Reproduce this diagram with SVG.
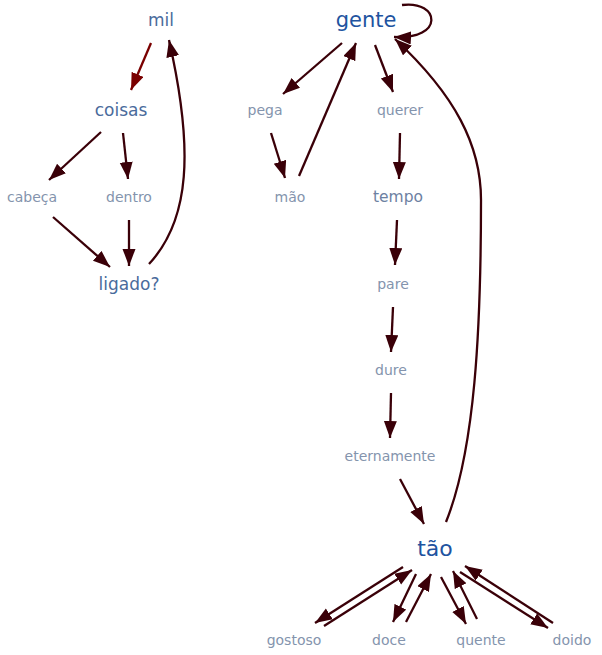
<svg xmlns="http://www.w3.org/2000/svg" width="602" height="655" viewBox="0 0 602 655">
<style>
text{font-family:"DejaVu Sans",Verdana,sans-serif;text-anchor:middle;dominant-baseline:central}
.s{font-size:14px;fill:#8494ad}
.m{font-size:17px;fill:#4a6b9c}
.t{font-size:15.5px;fill:#6d81a2}
.b{font-size:21px;fill:#2153a0}
.e{fill:none;stroke:#3a0008;stroke-width:2.3}
.r{fill:none;stroke:#7a0000;stroke-width:2.3}
</style>
<defs>
<marker id="a" markerUnits="userSpaceOnUse" markerWidth="19" markerHeight="14" refX="17" refY="6.5" orient="auto"><path d="M0,0 L17,6.5 L0,13 z" fill="#3a0008"/></marker>
<marker id="ar" markerUnits="userSpaceOnUse" markerWidth="19" markerHeight="14" refX="17" refY="6.5" orient="auto"><path d="M0,0 L17,6.5 L0,13 z" fill="#7a0000"/></marker>
</defs>
<g id="edges">
<path class="r" d="M151,43 L131,90" marker-end="url(#ar)"/>
<path class="e" d="M101,132 L49,180" marker-end="url(#a)"/>
<path class="e" d="M123,133 L128,179" marker-end="url(#a)"/>
<path class="e" d="M53,217 L110,267" marker-end="url(#a)"/>
<path class="e" d="M129,220 L129,266" marker-end="url(#a)"/>
<path class="e" d="M149,264 C190,220 194,150 169,40" marker-end="url(#a)"/>
<path class="e" d="M342,43 L283,94" marker-end="url(#a)"/>
<path class="e" d="M271,133 L285,178" marker-end="url(#a)"/>
<path class="e" d="M299,176 L356,43" marker-end="url(#a)"/>
<path class="e" d="M375,45 L393,92" marker-end="url(#a)"/>
<path class="e" d="M400,133 L399,179" marker-end="url(#a)"/>
<path class="e" d="M397,220 L395,265" marker-end="url(#a)"/>
<path class="e" d="M393,307 L391,352" marker-end="url(#a)"/>
<path class="e" d="M391,393 L390,438" marker-end="url(#a)"/>
<path class="e" d="M400,479 L424,524" marker-end="url(#a)"/>
<path class="e" d="M446,522 C475,450 481,330 481,200 C481,145 455,95 395,39" marker-end="url(#a)"/>
<path class="e" d="M402,5 C440,0 445,40 394,37" marker-end="url(#a)"/>
<path class="e" d="M403,567 L315,623" marker-end="url(#a)"/>
<path class="e" d="M324,626 L412,570" marker-end="url(#a)"/>
<path class="e" d="M416,574 L393,622" marker-end="url(#a)"/>
<path class="e" d="M406,622 L431,574" marker-end="url(#a)"/>
<path class="e" d="M441,577 L466,624" marker-end="url(#a)"/>
<path class="e" d="M477,619 L453,571" marker-end="url(#a)"/>
<path class="e" d="M460,572 L548,628" marker-end="url(#a)"/>
<path class="e" d="M553,623 L465,566" marker-end="url(#a)"/>
</g>
<g id="mil"><text class="m" x="161" y="20">mil</text></g>
<g id="coisas"><text class="m" x="121" y="110">coisas</text></g>
<g id="cabeca"><text class="s" x="32" y="197">cabeça</text></g>
<g id="dentro"><text class="s" x="129" y="197">dentro</text></g>
<g id="ligado"><text class="m" x="129" y="284">ligado?</text></g>
<g id="gente"><text class="b" x="366" y="20">gente</text></g>
<g id="pega"><text class="s" x="265" y="110">pega</text></g>
<g id="querer"><text class="s" x="400" y="110">querer</text></g>
<g id="mao"><text class="s" x="290" y="197">mão</text></g>
<g id="tempo"><text class="t" x="398" y="197">tempo</text></g>
<g id="pare"><text class="s" x="393" y="284">pare</text></g>
<g id="dure"><text class="s" x="391" y="370">dure</text></g>
<g id="eternamente"><text class="s" x="390" y="456">eternamente</text></g>
<g id="tao"><text class="b" x="435" y="548" style="font-size:22px">tão</text></g>
<g id="gostoso"><text class="s" x="294" y="640">gostoso</text></g>
<g id="doce"><text class="s" x="389" y="640">doce</text></g>
<g id="quente"><text class="s" x="481" y="640">quente</text></g>
<g id="doido"><text class="s" x="572" y="640">doido</text></g>
</svg>
